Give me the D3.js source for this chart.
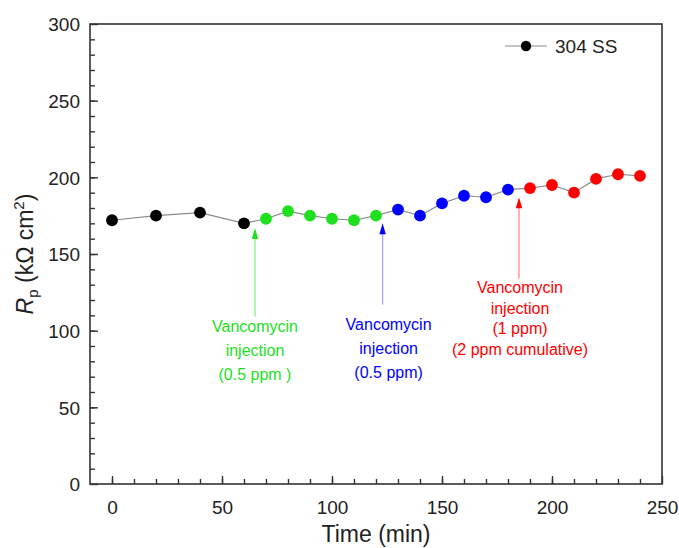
<!DOCTYPE html>
<html>
<head>
<meta charset="utf-8">
<script src="https://cdn.jsdelivr.net/npm/d3@7"></script>
<style>
  body { margin: 0; background: #fff; }
  svg { display: block; font-family: Arial, "Liberation Sans", sans-serif; }
</style>
</head>
<body>
<svg id="chart" width="679" height="548"></svg>
<script>
// ---- data ----
const times = [0, 20, 40, 60, 70, 80, 90, 100, 110, 120, 130, 140, 150, 160, 170, 180, 190, 200, 210, 220, 230, 240];
const rp    = [172, 175, 177, 170, 173, 178, 175, 173, 172, 175, 179, 175, 183, 188, 187, 192, 193, 195, 190, 199, 202, 201];
const phase = ["base","base","base","base","g","g","g","g","g","g","b","b","b","b","b","b","r","r","r","r","r","r"];
const xTicks = [0, 50, 100, 150, 200, 250];
const yTicks = [0, 50, 100, 150, 200, 250, 300];
const seriesName = "304 SS";
const injTimes = [65, 123, 185];
const injTipValues = [167, 170, 187];
const injTailValues = [109, 117, 134];
const injPhase = ["g", "b", "r"];
const injLabels = [
  ["Vancomycin", "injection", "(0.5 ppm )"],
  ["Vancomycin", "injection", "(0.5 ppm)"],
  ["Vancomycin", "injection", "(1 ppm)", "(2 ppm cumulative)"]
];

// ---- styles ----
const pointColor = { base: "#000000", g: "#1ee01e", b: "#0000ff", r: "#ff0000" };
const lineColor  = { g: "#8cf08c", b: "#a0a0ff", r: "#ff8a8a" };
const textLayout = [
  { dx: 0,  y0: 332, step: 24 },
  { dx: 6,  y0: 330, step: 24 },
  { dx: 1,  y0: 293, step: 20.5 }
];

const svg = d3.select("#chart");
const margin = { left: 90, top: 24, right: 17, bottom: 64 };
const W = 679, H = 548;
const x = d3.scaleLinear().domain([-10, 250]).range([margin.left, W - margin.right]);
const y = d3.scaleLinear().domain([0, 300]).range([H - margin.bottom, margin.top]);
const axisColor = "#333";

// frame
svg.append("rect")
  .attr("x", x.range()[0]).attr("y", y.range()[1])
  .attr("width", x.range()[1] - x.range()[0])
  .attr("height", y.range()[0] - y.range()[1])
  .attr("fill", "none").attr("stroke", axisColor).attr("stroke-width", 1.6);

// minor ticks
const gx = svg.append("g").attr("transform", `translate(0,${y(0)})`);
gx.call(d3.axisBottom(x).tickValues(d3.range(0, 250, 10)).tickSize(-5).tickFormat(""));
gx.call(g => g.selectAll(".domain").remove());
const gx2 = svg.append("g").attr("transform", `translate(0,${y(0)})`);
gx2.call(d3.axisBottom(x).tickValues(xTicks).tickSize(-8).tickPadding(17).tickFormat(d3.format("d")));
gx2.call(g => g.selectAll(".domain").remove());

const gy = svg.append("g").attr("transform", `translate(${x(-10)},0)`);
gy.call(d3.axisLeft(y).tickValues(d3.range(10, 300, 10)).tickSize(-5).tickFormat(""));
gy.call(g => g.selectAll(".domain").remove());
const gy2 = svg.append("g").attr("transform", `translate(${x(-10)},0)`);
gy2.call(d3.axisLeft(y).tickValues(yTicks).tickSize(-8).tickPadding(10).tickFormat(d3.format("d")));
gy2.call(g => g.selectAll(".domain").remove());

svg.selectAll(".tick line").attr("stroke", axisColor).attr("stroke-width", 1.4);
svg.selectAll(".tick text").attr("font-size", 19).attr("fill", "#222")
  .attr("font-family", "Arial, 'Liberation Sans', sans-serif");
gy2.selectAll(".tick text").attr("dy", "0.36em");

// axis titles
svg.append("text")
  .attr("x", (x.range()[0] + x.range()[1]) / 2).attr("y", 542)
  .attr("text-anchor", "middle").attr("font-size", 23).attr("fill", "#222")
  .text("Time (min)");

const yt = svg.append("text")
  .attr("transform", `translate(33,${(y.range()[0] + y.range()[1]) / 2}) rotate(-90)`)
  .attr("text-anchor", "middle").attr("font-size", 23).attr("fill", "#222");
yt.append("tspan").attr("font-style", "italic").text("R");
yt.append("tspan").attr("font-size", 15).attr("dy", 5).text("p");
yt.append("tspan").attr("dy", -5).text(" (kΩ cm");
yt.append("tspan").attr("font-size", 15).attr("dy", -9).text("2");
yt.append("tspan").attr("dy", 9).text(")");

// connecting line
const pts = times.map((t, i) => ({ t, v: rp[i], p: phase[i] }));
svg.append("path")
  .datum(pts)
  .attr("fill", "none").attr("stroke", "#8a8a8a").attr("stroke-width", 1.2)
  .attr("d", d3.line().x(d => x(d.t)).y(d => y(d.v)));

svg.selectAll("circle.pt").data(pts).enter().append("circle")
  .attr("class", "pt")
  .attr("cx", d => x(d.t)).attr("cy", d => y(d.v)).attr("r", 5.9)
  .attr("fill", d => pointColor[d.p]);

// injection arrows
injTimes.forEach((t, i) => {
  const c = pointColor[injPhase[i]];
  const ax = x(t), tipY = y(injTipValues[i]), tailY = y(injTailValues[i]);
  svg.append("line")
    .attr("x1", ax).attr("x2", ax).attr("y1", tipY + 8).attr("y2", tailY)
    .attr("stroke", lineColor[injPhase[i]]).attr("stroke-width", 1.3);
  svg.append("path")
    .attr("d", `M${ax},${tipY} L${ax - 3.2},${tipY + 11} L${ax + 3.2},${tipY + 11} Z`)
    .attr("fill", c);
  const L = textLayout[i];
  injLabels[i].forEach((s, k) => {
    svg.append("text")
      .attr("x", ax + L.dx).attr("y", L.y0 + k * L.step)
      .attr("text-anchor", "middle").attr("font-size", 16)
      .attr("fill", c).text(s);
  });
});

// legend
const lgY = 46;
svg.append("line").attr("x1", 505).attr("x2", 547).attr("y1", lgY).attr("y2", lgY)
  .attr("stroke", "#8a8a8a").attr("stroke-width", 1.2);
svg.append("circle").attr("cx", 526).attr("cy", lgY).attr("r", 5.2).attr("fill", "#000");
svg.append("text").attr("x", 555).attr("y", lgY + 7).attr("font-size", 19).attr("fill", "#222")
  .text(seriesName);
</script>
</body>
</html>
